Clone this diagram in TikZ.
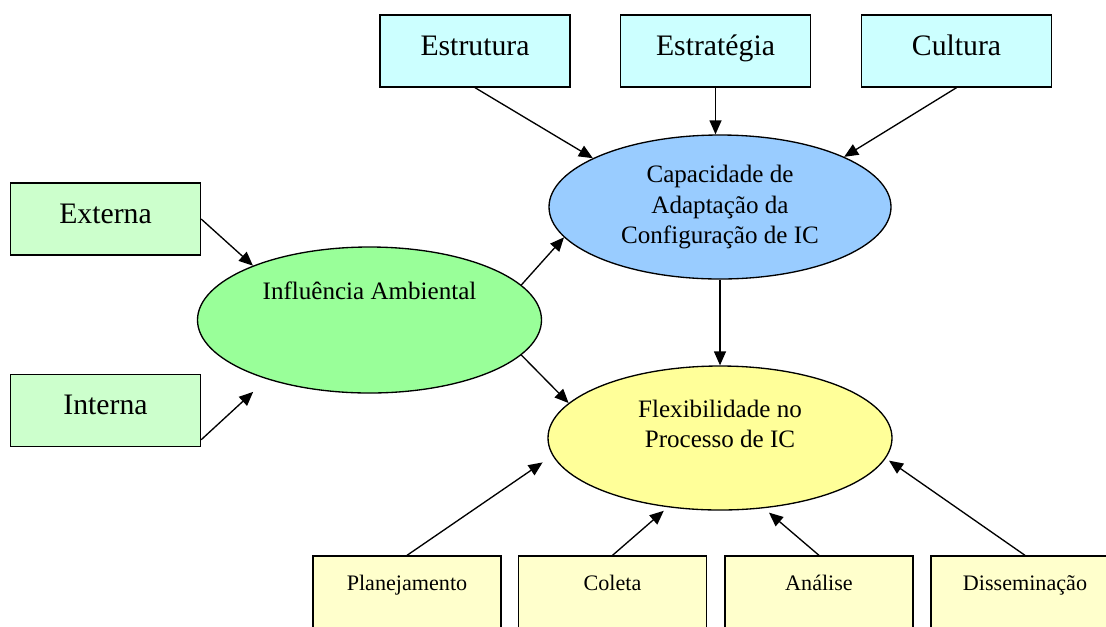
\documentclass[tikz,border=0pt]{standalone}
\usepackage{fontspec}
\setmainfont{Liberation Serif}
\usetikzlibrary{shapes.geometric,arrows.meta}

\definecolor{topcyan}{HTML}{CCFFFF}
\definecolor{capblue}{HTML}{99CCFF}
\definecolor{envgreen}{HTML}{CCFFCC}
\definecolor{inflgreen}{HTML}{99FF99}
\definecolor{flexyellow}{HTML}{FFFF99}
\definecolor{procyellow}{HTML}{FFFFCC}

\begin{document}
\begin{tikzpicture}[x=0.75pt,y=-0.75pt,
  box/.style={draw, line width=1pt, minimum width=142.5pt, inner xsep=0pt, inner ysep=0pt,
    font=\fontsize{22.3}{26}\selectfont, text height=30pt, text depth=24pt},
  procbox/.style={box, fill=procyellow, minimum width=141pt,
    font=\fontsize{16.6}{20}\selectfont, text height=25.5pt, text depth=28.5pt},
  blob/.style={draw, ellipse, line width=1pt, inner sep=0pt, align=center,
    font=\fontsize{18.8}{22.5}\selectfont},
  blobtext/.style={align=center, inner sep=0pt, font=\fontsize{18.8}{22.5}\selectfont},
  link/.style={line width=1pt, -{Triangle[length=10.5pt,width=9pt]}}
]

% Page frame (pixels of the reference)
\clip (0,0) rectangle (1106,626);
\fill[white] (0,0) rectangle (1106,626);

% Organisational factors (top row)
\node[box, fill=topcyan] (estrutura)  at (475,51)   {Estrutura};
\node[box, fill=topcyan] (estrategia) at (715.5,51) {Estratégia};
\node[box, fill=topcyan] (cultura)    at (956.5,51) {Cultura};

% Environment (left column)
\node[box, fill=envgreen] (externa) at (105.5,219)   {Externa};
\node[box, fill=envgreen] (interna) at (105.5,410.5) {Interna};

% Central ellipses
\node[blob, fill=capblue, minimum width=256.5pt, minimum height=108pt] (cap) at (720,207)
  {Capacidade de\\Adaptação da\\Configuração de IC};
\node[blob, fill=inflgreen, minimum width=258pt, minimum height=109.5pt] (infl) at (369.5,320) {};
\node[blobtext] (infltext) at ([yshift=21.75pt]infl.center) {Influência Ambiental};
\node[blob, fill=flexyellow, minimum width=258pt, minimum height=108pt] (flex) at (720,438) {};
\node[blobtext] (flextext) at ([yshift=10.5pt]flex.center) {Flexibilidade no\\Processo de IC};

% Process stages (bottom row)
\foreach \name/\x/\txt in {planej/407/Planejamento, coleta/612.5/Coleta,
                           analise/819/Análise, dissem/1025/Disseminação} {
  \node[procbox] (\name) at (\x,592) {\txt};
}

% Connectors
\draw[link] (estrutura.south) -- (cap.159);
\draw[link] (estrategia.south) -- (estrategia.south |- cap.north);
\draw[link] (cultura.south) -- (cap.22);
\draw[link] (externa.east) -- (infl.155);
\draw[link, shorten >=14pt] (interna.-17) -- (infl.210);
\draw[link] (infl.13) -- (cap.191);
\draw[link] (infl.347) -- (flex.167);
\draw[link] (cap.south) -- (flex.north);
\draw[link, shorten >=9pt] (planej.north) -- (flex.186);
\draw[link, shorten >=4pt] (coleta.north) -- (flex.233);
\draw[link, shorten >=5pt] (analise.north) -- (flex.302);
\draw[link, shorten >=3pt] (dissem.north) -- (flex.353);

\end{tikzpicture}
\end{document}
